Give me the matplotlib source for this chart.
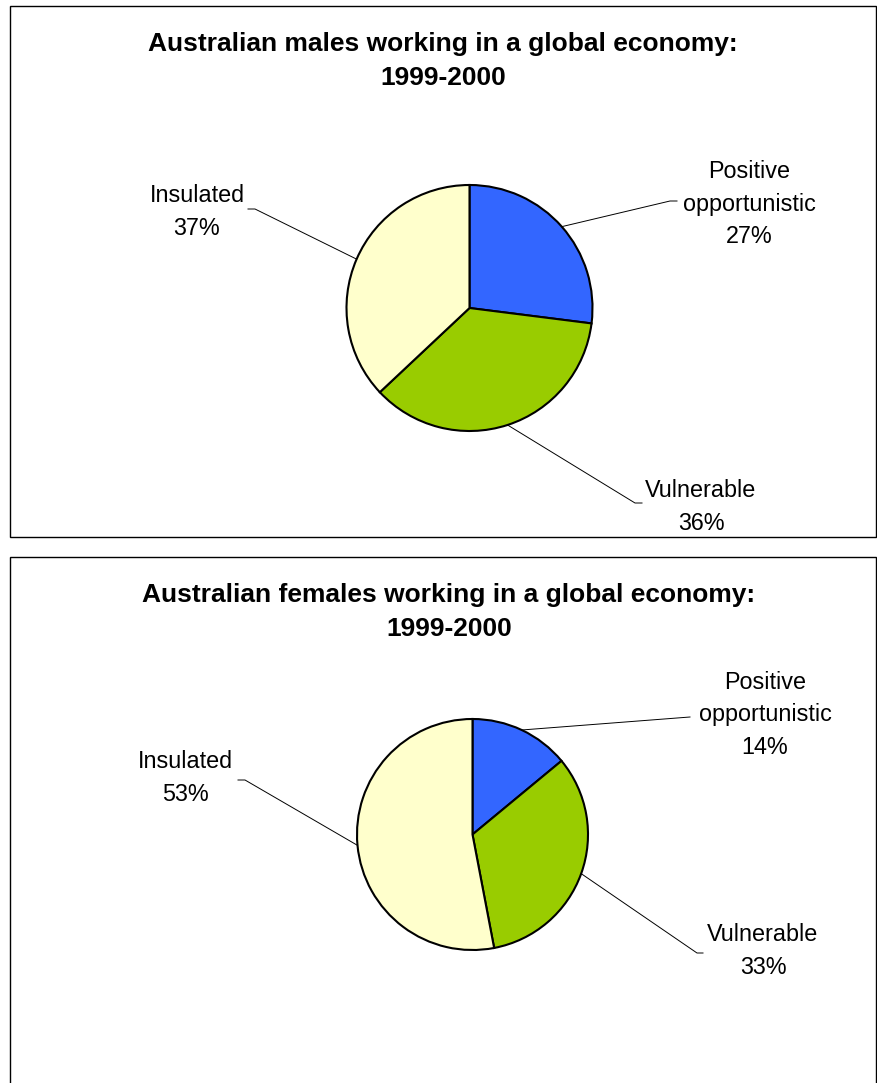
import numpy as np
import matplotlib.pyplot as plt
from matplotlib.patches import Rectangle

categories = ['Positive\nopportunistic', 'Vulnerable', 'Insulated']
males = [27, 36, 37]
females = [14, 33, 53]
colors = ['#3366FF', '#99CC00', '#FFFFCC']

W, H = 878, 1083
fig = plt.figure(figsize=(W / 100, H / 100), dpi=100)
ax = fig.add_axes([0, 0, 1, 1])
ax.set_xlim(0, W)
ax.set_ylim(0, H)
ax.set_aspect('equal')
ax.axis('off')

plt.rcParams['font.family'] = ['Liberation Sans', 'DejaVu Sans']

# panel frames (pixel coords, y from top)
for (x0, y0, x1, y1) in [(10, 6, 876, 537), (10, 557, 876, 1090)]:
    ax.add_patch(Rectangle((x0, H - y1), x1 - x0, y1 - y0, fill=False,
                           edgecolor='black', lw=1.0))

panels = [
    dict(title='Australian males working in a global economy:\n1999-2000',
         title_xy=(443, 61), values=males, center=(469.5, 308), r=123,
         labels=[(749, 204), (701, 507), (197, 212)],
         elbows=[((670, 201), (677, 201)), ((635, 503), (642, 503)),
                 ((255, 209), (248, 209))]),
    dict(title='Australian females working in a global economy:\n1999-2000',
         title_xy=(449, 612), values=females, center=(472.5, 834.5), r=115.5,
         labels=[(765, 715), (763, 951), (185, 778)],
         elbows=[((690, 717), (690, 717)), ((697, 953), (703, 953)),
                 ((245, 780), (238, 780))]),
]

for p in panels:
    cx, cy = p['center']
    wedges, _ = ax.pie(p['values'], colors=colors, startangle=90,
                       counterclock=False, center=(cx, H - cy), radius=p['r'],
                       wedgeprops=dict(edgecolor='black', linewidth=1.5))
    ax.text(p['title_xy'][0], H - p['title_xy'][1], p['title'], ha='center',
            va='center', fontsize=19, fontweight='bold', linespacing=1.5)
    for w, cat, v, (lx, ly), (e1, e2) in zip(wedges, categories, p['values'],
                                              p['labels'], p['elbows']):
        ang = np.deg2rad((w.theta1 + w.theta2) / 2)
        sx = cx + p['r'] * np.cos(ang)
        sy = cy - p['r'] * np.sin(ang)
        ax.plot([sx, e1[0], e2[0]], [H - sy, H - e1[1], H - e2[1]],
                color='black', lw=0.7)
        ax.text(lx, H - ly, f'{cat}\n{v}%', ha='center', va='center',
                fontsize=16.8, linespacing=1.52)

ax.set_xlim(0, W)
ax.set_ylim(0, H)
fig.savefig('out.png', dpi=100)
